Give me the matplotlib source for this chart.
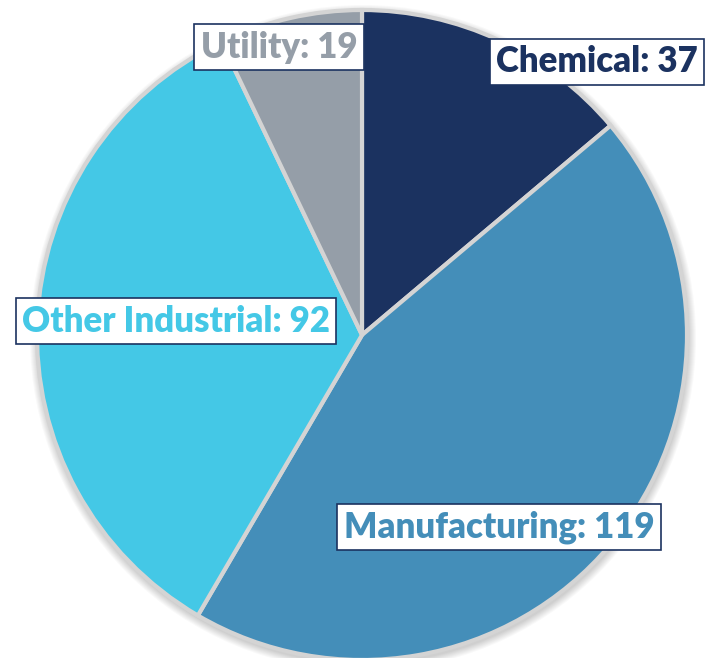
import matplotlib.pyplot as plt
from matplotlib.patches import Circle

# data
labels = ["Chemical", "Manufacturing", "Other Industrial", "Utility"]
values = [37, 119, 92, 19]
colors = ["#1b3260", "#448eb9", "#44c8e6", "#959ea8"]

# label positions in pixels (x, y from top)
label_pos = [(597, 62), (499, 527), (176, 321), (279, 47)]

W, H = 706, 658
fig = plt.figure(figsize=(W / 100, H / 100), dpi=100)
ax = fig.add_axes([0, 0, 1, 1])
ax.set_xlim(0, W)
ax.set_ylim(0, H)
ax.set_aspect("equal")
ax.axis("off")

cx, cy, r = 362, H - 335, 325

# soft shadow
for i in range(8):
    ax.add_patch(Circle((cx + 1, cy - 3), r + 8 - i, color="black",
                        alpha=0.025, lw=0, zorder=1))

ax.pie(values, colors=colors, startangle=90, counterclock=False,
       center=(cx, cy), radius=r, frame=True,
       wedgeprops=dict(edgecolor="#d4d4d4", linewidth=3, zorder=2))
ax.set_xlim(0, W)
ax.set_ylim(0, H)
ax.axis("off")

for lab, v, c, (px, py) in zip(labels, values, colors, label_pos):
    ax.text(px, H - py, f"{lab}: {v}", color=c, fontsize=25,
            fontweight="heavy", family="Lato", ha="center", va="center",
            zorder=5,
            bbox=dict(boxstyle="square,pad=0.18", fc="white",
                      ec="#1b3260", lw=1.2))

fig.savefig("out.png", dpi=100)
